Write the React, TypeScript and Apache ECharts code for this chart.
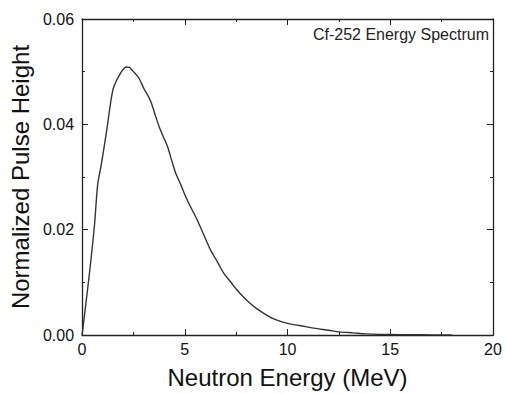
import React, { useEffect, useRef } from "react";
import * as echarts from "echarts";

const energy = [
  0, 0.11, 0.36, 0.6, 0.76, 0.92, 1.08, 1.25, 1.41, 1.52, 1.65, 1.8, 1.97, 2.14, 2.3, 2.46, 2.62,
  2.78, 3.02, 3.2, 3.35, 3.51, 3.75, 3.95, 4.16, 4.36, 4.56, 4.8, 5.04, 5.3, 5.61, 5.95, 6.26, 6.6,
  6.9, 7.23, 7.55, 8.04, 8.5, 8.85, 9.3, 10.0, 10.6, 11.28, 12.0, 12.5, 13.2, 13.8, 14.5, 15.0,
  16.0, 17.0, 18.0,
];
const pulseHeight = [
  0, 0.0035, 0.0117, 0.0206, 0.0285, 0.032, 0.0358, 0.0402, 0.0446, 0.0468, 0.0481, 0.0492,
  0.0503, 0.0509, 0.0508, 0.0502, 0.0495, 0.0487, 0.0467, 0.0455, 0.0443, 0.0424, 0.0396, 0.0377,
  0.0358, 0.0332, 0.0307, 0.0286, 0.0263, 0.0242, 0.0218, 0.0188, 0.0161, 0.0138, 0.0117, 0.0101,
  0.0085, 0.0065, 0.005, 0.0041, 0.0031, 0.0022, 0.0018, 0.0013, 0.0009, 0.0006, 0.0004, 0.00022,
  0.00012, 0.0001, 0.00005, 0.00002, 0,
];
const xTitle = "Neutron Energy (MeV)";
const yTitle = "Normalized Pulse Height";
const annotation = "Cf-252 Energy Spectrum";

const FONT = "Liberation Sans, Arial, sans-serif";
const AXIS_COLOR = "#222";

export default function App() {
  const ref = useRef<HTMLDivElement>(null);
  useEffect(() => {
    if (!ref.current) return;
    const chart = echarts.init(ref.current, undefined, { renderer: "svg" });
    const axisLine = { show: true, onZero: false, lineStyle: { color: AXIS_COLOR, width: 1.3 } };
    const tick = { show: true, inside: true, length: 6, lineStyle: { color: AXIS_COLOR, width: 1 } };
    const minor = { show: true, splitNumber: 2, length: 3, lineStyle: { color: AXIS_COLOR, width: 1 } };
    chart.setOption({
      animation: false,
      backgroundColor: "#fff",
      grid: { left: 81, right: 12, top: 19, bottom: 59, containLabel: false },
      xAxis: [
        {
          type: "value",
          min: 0,
          max: 20,
          interval: 5,
          name: xTitle,
          nameLocation: "middle",
          nameGap: 30,
          nameTextStyle: { fontFamily: FONT, fontSize: 24, color: "#111" },
          axisLine,
          axisTick: tick,
          minorTick: minor,
          splitLine: { show: false },
          axisLabel: { fontFamily: FONT, fontSize: 16, color: "#111", margin: 6 },
        },
        {
          type: "value",
          position: "top",
          min: 0,
          max: 20,
          interval: 5,
          axisLine,
          axisTick: tick,
          minorTick: minor,
          splitLine: { show: false },
          axisLabel: { show: false },
        },
      ],
      yAxis: [
        {
          type: "value",
          min: 0,
          max: 0.06,
          interval: 0.02,
          name: yTitle,
          nameLocation: "middle",
          nameGap: 50,
          nameTextStyle: { fontFamily: FONT, fontSize: 24, color: "#111" },
          axisLine,
          axisTick: tick,
          minorTick: minor,
          splitLine: { show: false },
          axisLabel: {
            fontFamily: FONT,
            fontSize: 16,
            color: "#111",
            margin: 8,
            formatter: (v: number) => v.toFixed(2),
          },
        },
        {
          type: "value",
          position: "right",
          min: 0,
          max: 0.06,
          interval: 0.02,
          axisLine,
          axisTick: tick,
          minorTick: minor,
          splitLine: { show: false },
          axisLabel: { show: false },
        },
      ],
      graphic: [
        {
          type: "text",
          right: 16,
          top: 26,
          style: {
            text: annotation,
            fontFamily: FONT,
            fontSize: 16,
            fill: "#222",
          },
        },
      ],
      series: [
        {
          type: "line",
          data: energy.map((e, i) => [e, pulseHeight[i]]),
          showSymbol: false,
          smooth: 0.3,
          lineStyle: { color: "#333", width: 1.4 },
          xAxisIndex: 0,
          yAxisIndex: 0,
        },
      ],
    });
    return () => chart.dispose();
  }, []);
  return (
    <div
      ref={ref}
      style={{ position: "fixed", left: 0, top: 0, width: 505, height: 394, background: "#fff" }}
    />
  );
}
